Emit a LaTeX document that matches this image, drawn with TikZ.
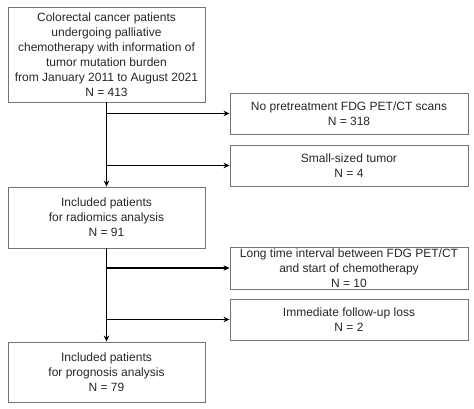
\documentclass[tikz,border=0pt]{standalone}
\usepackage{fontspec}
\setmainfont{Liberation Sans}
\usetikzlibrary{arrows.meta}
\begin{document}
\begin{tikzpicture}[x=1pt,y=-1pt,
  box/.style={draw=black!55,line width=0.9pt,align=center,inner sep=0pt,
    font=\fontsize{12}{15}\selectfont,text=black!85},
  arr/.style={line width=1.8pt,-{Stealth[length=6pt,width=5.5pt]}}]
\useasboundingbox (0,0) rectangle (474,408);
\node[box,minimum width=197pt,minimum height=95pt] (b1) at (106.5,54.5)
  {Colorectal cancer patients\\undergoing palliative\\chemotherapy with information of\\tumor mutation burden\\from January 2011 to August 2021\\N = 413};
\node[box,minimum width=238pt,minimum height=41pt] (ea) at (349,113.5)
  {No pretreatment FDG PET/CT scans\\N = 318};
\node[box,minimum width=238pt,minimum height=41pt] (eb) at (349,165.5)
  {Small-sized tumor\\N = 4};
\node[box,minimum width=197pt,minimum height=61pt] (b2) at (106.5,217.5)
  {Included patients\\for radiomics analysis\\N = 91};
\node[box,minimum width=238pt,minimum height=42pt] (ec) at (349,268)
  {Long time interval between FDG PET/CT\\and start of chemotherapy\\N = 10};
\node[box,minimum width=238pt,minimum height=41pt] (ed) at (349,319.5)
  {Immediate follow-up loss\\N = 2};
\node[box,minimum width=197pt,minimum height=60pt] (b3) at (106.5,372)
  {Included patients\\for prognosis analysis\\N = 79};
\draw[arr] (b1.south) -- (b2.north);
\draw[arr] (b2.south) -- (b3.north);
\coordinate (ja) at (b1.south |- ea.west);
\coordinate (jb) at (b1.south |- eb.west);
\coordinate (jc) at (b2.south |- ec.west);
\coordinate (jd) at (b2.south |- ed.west);
\draw[arr] (ja) -- (ea.west);
\draw[arr] (jb) -- (eb.west);
\draw[arr] (jc) -- (ec.west);
\draw[arr] (jd) -- (ed.west);
\end{tikzpicture}
\end{document}
